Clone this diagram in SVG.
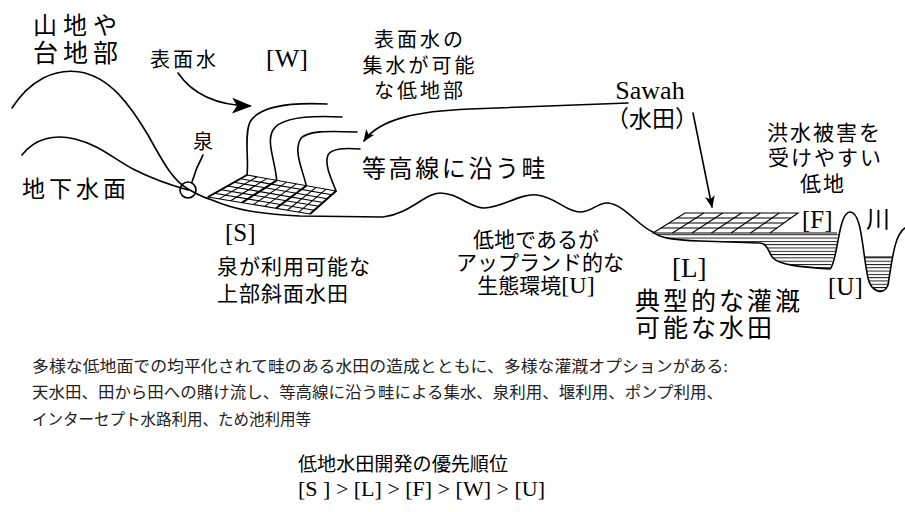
<svg xmlns="http://www.w3.org/2000/svg" width="905" height="512" viewBox="0 0 905 512">
  <style>
    .ln { fill: none; stroke: #000; stroke-width: 1.6; stroke-linecap: round; stroke-linejoin: round; }
    .thin { fill: none; stroke: #000; stroke-width: 1.1; }
    .thick { fill: none; stroke: #000; stroke-width: 2; }
    .jp { font-family: "Noto Sans CJK JP", sans-serif; fill: #000; }
    .tm { font-family: "Liberation Serif", "Noto Sans CJK JP", serif; fill: #000; }
    .note { font-family: "Liberation Serif", "Noto Sans CJK JP", serif; fill: #222; font-size: 16px; }
  </style>
  <defs>
    <marker id="headBig" viewBox="0 0 20 16" refX="18" refY="8" markerWidth="20" markerHeight="16" markerUnits="userSpaceOnUse" orient="auto">
      <path d="M0,0 L20,8 L0,16 L5,8 z" fill="#000"/>
    </marker>
    <marker id="headSmall" viewBox="0 0 12 10" refX="11" refY="5" markerWidth="12" markerHeight="10" markerUnits="userSpaceOnUse" orient="auto">
      <path d="M0,0 L12,5 L0,10 L3,5 z" fill="#000"/>
    </marker>
    <!-- water bodies, used to clip the horizontal hatching -->
    <clipPath id="fieldWater">
      <path d="M653,233 L838,233 L836,250 L830,269 C800,267 780,265 773,258 C768,252 768,244 760,243 L700,241 C672,240 660,238 653,232 z"/>
    </clipPath>
    <clipPath id="riverWater">
      <path d="M865,257 C866,265 867,272 868,278 C871,292 884,296 888,285 C890,275 891,265 892,257 z"/>
    </clipPath>
    <pattern id="hlines" width="10" height="3.3" patternUnits="userSpaceOnUse">
      <line x1="0" y1="0.5" x2="10" y2="0.5" stroke="#000" stroke-width="0.9"/>
    </pattern>
  </defs>

  <!-- landform cross-section -->
  <g id="terrain">
    <path class="ln" d="M12,108 C30,80 55,68 80,72 C110,77 130,105 148,135 C162,160 172,180 188,189 C200,196 205,198 212,200 C235,210 260,214 300,216 L383,217 C410,214 425,193 440,193 C458,193 470,208 484,208 C502,208 520,193 537,195 C556,197 566,212 580,212 C592,212 598,202 608,203 C625,205 638,226 653,232 C660,238 672,240 700,241 L760,243 C768,244 768,252 773,258 C780,265 800,267 830,269 C838,262 838,212 850,212 C862,212 862,250 868,278 C871,292 884,296 888,285 C892,262 894,235 905,228"/>
  </g>

  <g id="groundwater">
    <path class="ln" d="M22,155 C35,138 55,134 75,139 C100,145 115,160 135,170 C155,180 170,185 188,190"/>
  </g>

  <g id="spring">
    <circle cx="188" cy="190" r="8" class="ln"/>
  </g>

  <!-- surface-water contours -->
  <g id="contours">
    <path class="ln" d="M327,104 C285,102 258,108 250,122 C244,135 249,160 247,175"/>
    <path class="ln" d="M342,117 C305,115 280,118 273,130 C266,142 275,160 276.7,180.3"/>
    <path class="ln" d="M357,132 C330,131 305,130 300,140 C294,152 302,168 306.3,185.7"/>
    <path class="ln" d="M360,149 C345,148 332,148 328,155 C324,165 332,180 336,191"/>
  </g>

  <!-- terraced field on the upper slope -->
  <g id="field-s">
    <path class="thin" d="M247,175 L336,191 L310,214 L208,197 z"/>
    <path class="thin" d="M256.9,176.8 L219.3,198.9 M266.8,178.6 L230.7,200.8 M286.6,182.1 L253.3,204.6 M296.4,183.9 L264.7,206.4 M316.2,187.4 L287.3,210.2 M326.1,189.2 L298.7,212.1"/>
    <path class="thick" d="M276.7,180.3 L242,202.7 M306.3,185.7 L276,208.3 M247,175 L208,197 M336,191 L310,214"/>
    <path class="thin" d="M214.5,193.3 L314.3,210.2 M221,189.7 L318.7,206.3 M227.5,186 L323,202.5 M234,182.3 L327.3,198.7 M240.5,178.7 L331.7,194.8"/>
  </g>

  <!-- lowland field and flood zone -->
  <g id="field-l">
    <rect x="650" y="233" width="190" height="40" fill="url(#hlines)" clip-path="url(#fieldWater)"/>
    <path class="thin" d="M685,213 L798,213 L770,233 L653,233 z"/>
    <path class="thin" d="M703.8,213 L672.5,233 M722.7,213 L692,233 M741.5,213 L711.5,233 M760.3,213 L731,233 M779.2,213 L750.5,233"/>
    <path class="thin" d="M661,228 L777,228 M669,223 L784,223 M677,218 L791,218"/>
    <line class="thin" x1="770" y1="233" x2="837" y2="233"/>
  </g>

  <g id="river">
    <rect x="862" y="257" width="32" height="40" fill="url(#hlines)" clip-path="url(#riverWater)"/>
    <line class="thin" x1="865" y1="257" x2="892" y2="257"/>
  </g>

  <!-- connectors -->
  <g id="connectors">
    <path class="ln" d="M178,73 Q200,105 250,106" marker-end="url(#headBig)"/>
    <path class="ln" d="M628,103 L470,109 C420,111 380,118 364,141" marker-end="url(#headSmall)"/>
    <path class="ln" d="M693,113 L712,207" marker-end="url(#headSmall)"/>
    <path class="ln" d="M203,155 Q196,168 192,182"/>
  </g>

  <!-- labels -->
  <g id="label-mountain">
    <text class="jp" x="33" y="34" font-size="24" letter-spacing="6">山地や</text>
    <text class="jp" x="33" y="62" font-size="25" letter-spacing="5">台地部</text>
  </g>
  <g id="label-surface-water">
    <text class="jp" x="150" y="67" font-size="20" letter-spacing="3">表面水</text>
  </g>
  <g id="label-w">
    <text class="tm" x="266" y="67" font-size="26">[W]</text>
  </g>
  <g id="label-catchment">
    <text class="jp" x="420" y="47" font-size="20" letter-spacing="3" text-anchor="middle">表面水の</text>
    <text class="jp" x="420" y="73" font-size="20" letter-spacing="3" text-anchor="middle">集水が可能</text>
    <text class="jp" x="420" y="98" font-size="20" letter-spacing="3" text-anchor="middle">な低地部</text>
  </g>
  <g id="label-sawah">
    <text class="tm" x="650" y="99" font-size="26" text-anchor="middle">Sawah</text>
    <text class="jp" x="652" y="127" font-size="23" text-anchor="middle">（水田）</text>
  </g>
  <g id="label-flood">
    <text class="jp" x="767" y="140" font-size="21" letter-spacing="2">洪水被害を</text>
    <text class="jp" x="768" y="165" font-size="21" letter-spacing="2">受けやすい</text>
    <text class="jp" x="800" y="191" font-size="21" letter-spacing="2">低地</text>
  </g>
  <g id="label-spring">
    <text class="jp" x="193" y="149" font-size="20">泉</text>
  </g>
  <g id="label-groundwater">
    <text class="jp" x="22" y="197" font-size="23" letter-spacing="4">地下水面</text>
  </g>
  <g id="label-bund">
    <text class="jp" x="362" y="177" font-size="24" letter-spacing="2.6">等高線に沿う畦</text>
  </g>
  <g id="label-s">
    <text class="tm" x="225" y="241" font-size="25">[S]</text>
    <text class="jp" x="217" y="274" font-size="21" letter-spacing="1">泉が利用可能な</text>
    <text class="jp" x="217" y="301" font-size="21" letter-spacing="1">上部斜面水田</text>
  </g>
  <g id="label-upland">
    <text class="jp" x="536" y="247" font-size="21" text-anchor="middle">低地であるが</text>
    <text class="jp" x="540" y="270" font-size="21" text-anchor="middle">アップランド的な</text>
    <text class="jp" x="536" y="293" font-size="21" text-anchor="middle">生態環境<tspan class="tm" font-size="24">[U]</tspan></text>
  </g>
  <g id="label-l">
    <text class="tm" x="672" y="277" font-size="27">[L]</text>
    <text class="jp" x="635" y="310" font-size="25" letter-spacing="3">典型的な灌漑</text>
    <text class="jp" x="635" y="337" font-size="25" letter-spacing="3">可能な水田</text>
  </g>
  <g id="label-f">
    <text class="tm" x="802" y="228" font-size="25">[F]</text>
  </g>
  <g id="label-river">
    <text class="jp" x="866" y="228" font-size="24">川</text>
  </g>
  <g id="label-u">
    <text class="tm" x="828" y="295" font-size="25">[U]</text>
  </g>

  <!-- notes -->
  <g id="notes">
    <text class="note" x="32" y="372" textLength="696" lengthAdjust="spacingAndGlyphs">多様な低地面での均平化されて畦のある水田の造成とともに、多様な灌漑オプションがある:</text>
    <text class="note" x="32" y="398" textLength="691" lengthAdjust="spacingAndGlyphs">天水田、田から田への賭け流し、等高線に沿う畦による集水、泉利用、堰利用、ポンプ利用、</text>
    <text class="note" x="32" y="425" textLength="279" lengthAdjust="spacingAndGlyphs">インターセプト水路利用、ため池利用等</text>
  </g>
  <g id="priority">
    <text class="jp" x="298" y="471" font-size="19" textLength="210" lengthAdjust="spacingAndGlyphs" fill="#222">低地水田開発の優先順位</text>
    <text class="tm" x="298" y="496" font-size="22" fill="#222">[S ] &gt; [L] &gt; [F] &gt; [W] &gt; [U]</text>
  </g>
</svg>
